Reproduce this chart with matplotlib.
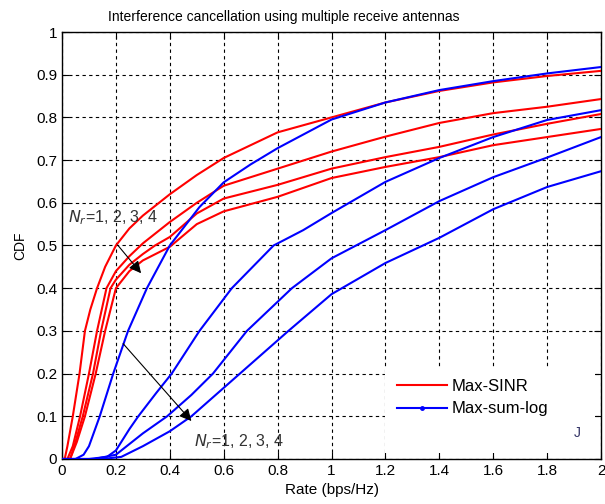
import matplotlib

matplotlib.use("Agg")
import matplotlib.pyplot as plt
from matplotlib.patches import Rectangle

plt.rcParams["font.family"] = ["Liberation Sans", "DejaVu Sans"]

# Max-SINR curves (Nr = 1, 2, 3, 4)
sinr_x1 = [0.0, 0.01, 0.02, 0.04, 0.065, 0.085, 0.105, 0.13, 0.16, 0.2, 0.25, 0.3, 0.35, 0.4, 0.5, 0.6, 0.8, 1.0, 1.2, 1.4, 1.6, 1.8, 2.0]
sinr_y1 = [0.0, 0.0, 0.03, 0.1, 0.2, 0.3, 0.35, 0.4, 0.45, 0.5, 0.54, 0.57, 0.595, 0.62, 0.665, 0.705, 0.765, 0.8, 0.835, 0.862, 0.882, 0.897, 0.909]

sinr_x2 = [0.0, 0.02, 0.04, 0.067, 0.1, 0.13, 0.165, 0.2, 0.25, 0.3, 0.4, 0.5, 0.6, 0.8, 1.0, 1.2, 1.4, 1.6, 1.8, 2.0]
sinr_y2 = [0.0, 0.0, 0.03, 0.1, 0.2, 0.3, 0.4, 0.44, 0.475, 0.505, 0.555, 0.6, 0.64, 0.68, 0.72, 0.755, 0.787, 0.81, 0.825, 0.843]

sinr_x3 = [0.0, 0.03, 0.05, 0.077, 0.115, 0.145, 0.18, 0.2, 0.25, 0.3, 0.345, 0.4, 0.5, 0.6, 0.8, 1.0, 1.2, 1.4, 1.6, 1.8, 2.0]
sinr_y3 = [0.0, 0.0, 0.04, 0.1, 0.2, 0.3, 0.4, 0.42, 0.455, 0.48, 0.5, 0.52, 0.575, 0.61, 0.642, 0.68, 0.707, 0.731, 0.76, 0.785, 0.808]

sinr_x4 = [0.0, 0.03, 0.055, 0.085, 0.125, 0.16, 0.2, 0.25, 0.3, 0.4, 0.5, 0.6, 0.8, 1.0, 1.2, 1.4, 1.6, 1.8, 2.0]
sinr_y4 = [0.0, 0.0, 0.04, 0.1, 0.2, 0.3, 0.4, 0.44, 0.465, 0.497, 0.55, 0.58, 0.614, 0.658, 0.684, 0.707, 0.735, 0.754, 0.773]

# Max-sum-log curves (Nr = 1, 2, 3, 4)
log_x1 = [0.0, 0.05, 0.08, 0.1, 0.14, 0.19, 0.245, 0.315, 0.4, 0.51, 0.6, 0.7, 0.8, 1.0, 1.2, 1.4, 1.6, 1.8, 2.0]
log_y1 = [0.0, 0.0, 0.01, 0.03, 0.1, 0.2, 0.3, 0.4, 0.5, 0.59, 0.648, 0.69, 0.728, 0.795, 0.835, 0.864, 0.885, 0.903, 0.918]

log_x2 = [0.0, 0.1, 0.167, 0.2, 0.25, 0.283, 0.35, 0.407, 0.51, 0.63, 0.785, 0.895, 1.0, 1.2, 1.4, 1.6, 1.8, 2.0]
log_y2 = [0.0, 0.0, 0.005, 0.02, 0.07, 0.1, 0.155, 0.2, 0.3, 0.4, 0.5, 0.536, 0.576, 0.649, 0.705, 0.754, 0.794, 0.817]

log_x3 = [0.0, 0.12, 0.2, 0.25, 0.3, 0.39, 0.48, 0.56, 0.686, 0.853, 1.0, 1.2, 1.4, 1.6, 1.8, 2.0]
log_y3 = [0.0, 0.0, 0.01, 0.035, 0.06, 0.1, 0.15, 0.2, 0.3, 0.4, 0.47, 0.536, 0.604, 0.66, 0.706, 0.754]

log_x4 = [0.0, 0.15, 0.22, 0.3, 0.4, 0.48, 0.57, 0.66, 0.84, 1.0, 1.2, 1.4, 1.6, 1.8, 2.0]
log_y4 = [0.0, 0.0, 0.005, 0.03, 0.065, 0.1, 0.15, 0.2, 0.3, 0.386, 0.459, 0.518, 0.585, 0.637, 0.674]

xticks = [0, 0.2, 0.4, 0.6, 0.8, 1, 1.2, 1.4, 1.6, 1.8, 2]
yticks = [0, 0.1, 0.2, 0.3, 0.4, 0.5, 0.6, 0.7, 0.8, 0.9, 1]
xtick_labels = ["0", "0.2", "0.4", "0.6", "0.8", "1", "1.2", "1.4", "1.6", "1.8", "2"]
ytick_labels = ["0", "0.1", "0.2", "0.3", "0.4", "0.5", "0.6", "0.7", "0.8", "0.9", "1"]


def plot_cdf(save_path="out.png"):
    fig = plt.figure(figsize=(6.05, 5.04), dpi=100)
    ax = fig.add_axes([0.1025, 0.0893, 0.891, 0.8472])

    sinr = [(sinr_x1, sinr_y1), (sinr_x2, sinr_y2), (sinr_x3, sinr_y3), (sinr_x4, sinr_y4)]
    logs = [(log_x1, log_y1), (log_x2, log_y2), (log_x3, log_y3), (log_x4, log_y4)]

    for i, (x, y) in enumerate(sinr):
        ax.plot(x, y, color="#ff0000", lw=1.5, label="Max-SINR" if i == 0 else None, zorder=3)
    for i, (x, y) in enumerate(logs):
        ax.plot(x, y, color="#0000ff", lw=1.5, zorder=3)
    # legend handle for blue has a dot marker in the middle (matlab style)
    ax.plot([], [], color="#0000ff", lw=1.5, marker=".", markersize=5, label="Max-sum-log")

    ax.set_xlim(0, 2)
    ax.set_ylim(0, 1)
    ax.set_xticks(xticks)
    ax.set_xticklabels(xtick_labels)
    ax.set_yticks(yticks)
    ax.set_yticklabels(ytick_labels)
    ax.tick_params(direction="in", top=True, right=True, length=5, labelsize=11, width=0.8)
    ax.grid(True, color="black", linestyle=(0, (3, 3)), linewidth=0.8)
    for sp in ax.spines.values():
        sp.set_linewidth(1.0)

    # title sits left of the axes centre in the original
    fig.text(0.469, 0.966, "Interference cancellation using multiple receive antennas",
             fontsize=10, ha="center", va="center")
    ax.set_xlabel("Rate (bps/Hz)", fontsize=11, labelpad=4)
    ax.set_ylabel("CDF", fontsize=10, labelpad=6)

    # arrows + annotations
    ax.annotate("", xy=(0.3, 0.43), xytext=(0.2, 0.506),
                arrowprops=dict(arrowstyle="-|>", color="black", lw=0.8, mutation_scale=18), zorder=4)
    ax.text(0.022, 0.565, "$N_r$=1, 2, 3, 4", fontsize=11.5, color="#333333", va="center", ha="left", zorder=4)

    ax.annotate("", xy=(0.487, 0.084), xytext=(0.22, 0.275),
                arrowprops=dict(arrowstyle="-|>", color="black", lw=0.8, mutation_scale=18), zorder=4)
    ax.text(0.49, 0.04, "$N_r$=1, 2, 3, 4", fontsize=11.5, color="#333333", va="center", ha="left", zorder=4)

    # white legend box blanks the grid down to the axes corner, ticks stay visible
    ax.add_patch(Rectangle((0.599, 0.014), 0.39, 0.201, transform=ax.transAxes,
                           facecolor="white", edgecolor="none", zorder=2))
    ax.legend(loc="upper left", bbox_to_anchor=(0.599, 0.215), fontsize=12, frameon=False,
              borderaxespad=0, handlelength=3.0, handletextpad=0.3,
              borderpad=0.7, labelspacing=0.45)

    ax.text(1.91, 0.061, "J", fontsize=10, color="#333366", ha="center", va="center", zorder=6)

    fig.savefig(save_path, dpi=100)
    plt.close(fig)


if __name__ == "__main__":
    plot_cdf()
